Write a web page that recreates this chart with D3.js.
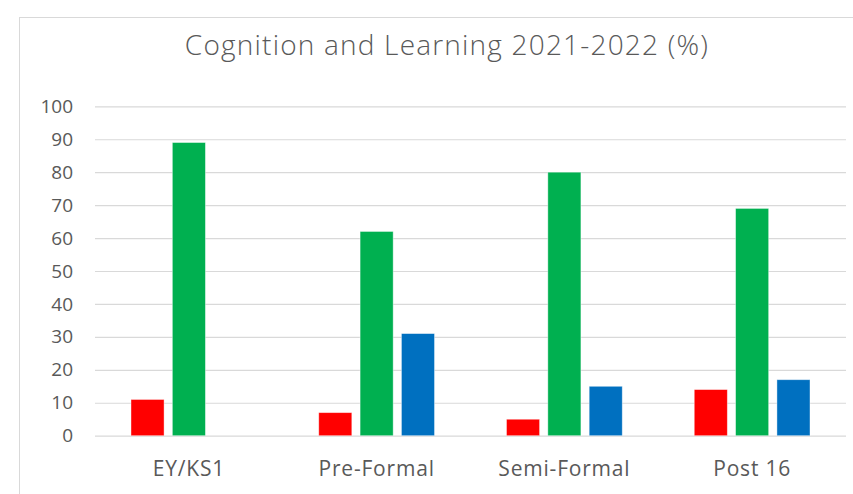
<!DOCTYPE html>
<html>
<head>
<meta charset="utf-8">
<script src="https://cdn.jsdelivr.net/npm/d3@7"></script>
<style>
  body { margin: 0; background: #fff; }
  svg { display: block; }
</style>
</head>
<body>
<svg id="chart" width="853" height="494"></svg>
<script>
var categories = ["EY/KS1", "Pre-Formal", "Semi-Formal", "Post 16"];
var seriesNames = ["s1", "s2", "s3"];
var seriesColors = ["#ff0000", "#00b050", "#0070c0"];
var redValues = [11, 7, 5, 14];
var greenValues = [89, 62, 80, 69];
var blueValues = [0, 31, 15, 17];
var yTicks = [0, 10, 20, 30, 40, 50, 60, 70, 80, 90, 100];
var title = "Cognition and Learning 2021-2022 (%)";

var svg = d3.select("#chart");
var margin = {left: 95, right: 7, top: 106, bottom: 58};
var W = 853, H = 494;

// chart area border
svg.append("rect")
    .attr("x", 19.5).attr("y", 17.5)
    .attr("width", 900).attr("height", 600)
    .attr("fill", "none")
    .attr("stroke", "#d9d9d9")
    .attr("stroke-width", 1);

svg.append("text")
    .attr("x", 447).attr("y", 55)
    .attr("text-anchor", "middle")
    .attr("font-family", "'Open Sans', sans-serif")
    .attr("font-weight", 300)
    .attr("font-size", 28)
    .attr("letter-spacing", 1.2)
    .attr("fill", "#595959")
    .text(title);

var x = d3.scaleBand()
    .domain(categories)
    .range([margin.left, W - margin.right])
    .paddingInner(0).paddingOuter(0);

var y = d3.scaleLinear()
    .domain([0, 100])
    .range([435.7, 106.3]);

var xs = d3.scaleBand()
    .domain(seriesNames)
    .range([36, x.bandwidth() - 36])
    .paddingInner(0.2);

// gridlines
var grid = svg.append("g")
    .attr("transform", "translate(" + margin.left + ",0)")
    .call(d3.axisLeft(y).tickValues(yTicks).tickSize(-(W - margin.right - margin.left)).tickFormat(""));
grid.select(".domain").remove();
grid.selectAll(".tick line").attr("stroke", "#d9d9d9").attr("stroke-width", 1.2);

// y tick labels
var yAxis = svg.append("g")
    .attr("transform", "translate(73,0)")
    .call(d3.axisLeft(y).tickValues(yTicks).tickSize(0).tickPadding(0));
yAxis.select(".domain").remove();
yAxis.selectAll("text")
    .attr("font-family", "'Open Sans', sans-serif")
    .attr("font-size", 19)
    .attr("fill", "#595959");

var data = categories.map(function(c, i) {
    return {cat: c, vals: [redValues[i], greenValues[i], blueValues[i]]};
});

var groups = svg.append("g").selectAll("g")
    .data(data).enter().append("g")
    .attr("transform", function(d) { return "translate(" + x(d.cat) + ",0)"; });

groups.selectAll("rect")
    .data(function(d) { return d.vals.map(function(v, j) { return {s: seriesNames[j], v: v, c: seriesColors[j]}; }); })
    .enter().append("rect")
    .filter(function(d) { return d.v > 0; })
    .attr("x", function(d) { return xs(d.s); })
    .attr("y", function(d) { return y(d.v); })
    .attr("width", xs.bandwidth())
    .attr("height", function(d) { return y(0) - y(d.v); })
    .attr("fill", function(d) { return d.c; })
    .attr("stroke", "#ffffff")
    .attr("stroke-opacity", 0.5)
    .attr("stroke-width", 0.8);

// x axis labels
var xAxis = svg.append("g")
    .attr("transform", "translate(0,436)")
    .call(d3.axisBottom(x).tickSize(0).tickPadding(25));
xAxis.select(".domain").remove();
xAxis.selectAll("text")
    .attr("font-family", "'Open Sans', sans-serif")
    .attr("font-size", 21)
    .attr("letter-spacing", 0.8)
    .attr("fill", "#595959");
</script>
</body>
</html>
